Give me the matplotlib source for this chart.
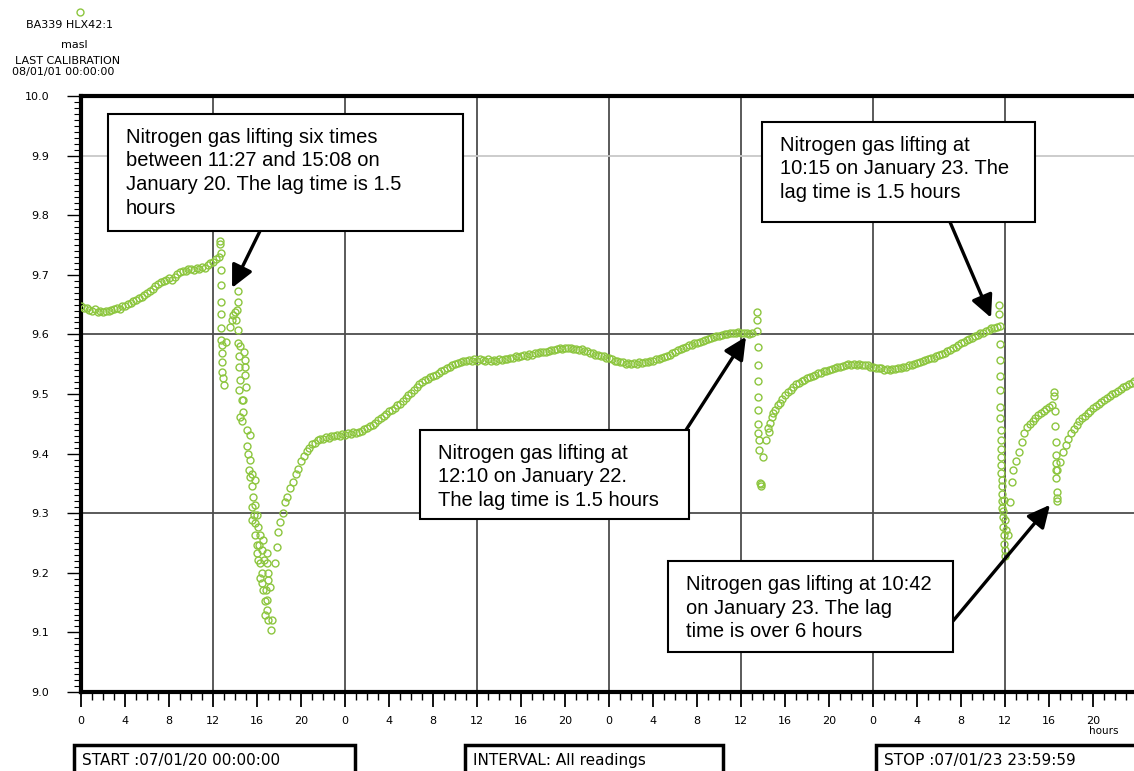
import numpy as np
import matplotlib
matplotlib.use('Agg')
import matplotlib.pyplot as plt
from matplotlib.patches import Rectangle
from matplotlib.lines import Line2D
from matplotlib.ticker import MultipleLocator, FixedLocator, FuncFormatter

W, H = 1134, 771
GREEN = '#8dc63f'

# water level (masl) in the calm stretches, one reading every STEP hours
STEP = 0.25

calm1_start = 0.0
calm1_level = [
    9.647, 9.644, 9.645, 9.641, 9.640, 9.642, 9.638, 9.639, 9.637, 9.640,
    9.639, 9.641, 9.642, 9.644, 9.643, 9.647, 9.648, 9.651, 9.652, 9.656,
    9.657, 9.661, 9.662, 9.666, 9.669, 9.672, 9.676, 9.681, 9.684, 9.688,
    9.690, 9.692, 9.694, 9.692, 9.697, 9.701, 9.704, 9.707, 9.706, 9.709,
    9.710, 9.708, 9.711, 9.710, 9.713, 9.712, 9.716, 9.719, 9.722, 9.726,
    9.730,
]

calm2_start = 18.75
calm2_level = [
    9.328, 9.343, 9.352, 9.366, 9.374, 9.387, 9.396, 9.404, 9.410, 9.416,
    9.418, 9.422, 9.424, 9.425, 9.428, 9.427, 9.430, 9.429, 9.432, 9.430,
    9.433, 9.431, 9.434, 9.433, 9.436, 9.434, 9.437, 9.438, 9.441, 9.443,
    9.446, 9.448, 9.452, 9.456, 9.460, 9.463, 9.467, 9.471, 9.473, 9.477,
    9.481, 9.484, 9.489, 9.493, 9.498, 9.502, 9.507, 9.512, 9.516, 9.520,
    9.524, 9.526, 9.528, 9.531, 9.532, 9.535, 9.538, 9.541, 9.543, 9.546,
    9.548, 9.551, 9.552, 9.553, 9.556, 9.555, 9.557, 9.556, 9.558, 9.556,
    9.558, 9.557, 9.555, 9.558, 9.556, 9.557, 9.555, 9.558, 9.557, 9.559,
    9.558, 9.560, 9.561, 9.563, 9.562, 9.564, 9.565, 9.564, 9.567, 9.566,
    9.569, 9.568, 9.570, 9.571, 9.570, 9.572, 9.574, 9.573, 9.576, 9.577,
    9.576, 9.578, 9.577, 9.577, 9.575, 9.576, 9.574, 9.575, 9.572, 9.572,
    9.569, 9.568, 9.566, 9.565, 9.563, 9.563, 9.561, 9.560, 9.558, 9.556,
    9.555, 9.553, 9.554, 9.551, 9.552, 9.550, 9.552, 9.551, 9.553, 9.552,
    9.554, 9.553, 9.556, 9.556, 9.558, 9.559, 9.561, 9.562, 9.564, 9.566,
    9.568, 9.570, 9.573, 9.575, 9.577, 9.579, 9.582, 9.583, 9.585, 9.586,
    9.588, 9.589, 9.591, 9.592, 9.594, 9.595, 9.597, 9.598, 9.599, 9.600,
    9.601, 9.602, 9.603, 9.602, 9.604, 9.603, 9.602, 9.603, 9.601, 9.602,
]

calm3_start = 63.5
calm3_level = [
    9.485, 9.492, 9.498, 9.503, 9.507, 9.511, 9.516, 9.519, 9.522, 9.524,
    9.527, 9.528, 9.531, 9.532, 9.535, 9.536, 9.538, 9.539, 9.541, 9.542,
    9.544, 9.545, 9.546, 9.547, 9.548, 9.550, 9.549, 9.550, 9.548, 9.550,
    9.549, 9.548, 9.548, 9.546, 9.546, 9.544, 9.543, 9.543, 9.541, 9.542,
    9.541, 9.542, 9.542, 9.544, 9.543, 9.546, 9.546, 9.548, 9.549, 9.551,
    9.552, 9.554, 9.555, 9.557, 9.558, 9.560, 9.561, 9.563, 9.565, 9.567,
    9.569, 9.572, 9.574, 9.577, 9.579, 9.583, 9.585, 9.588, 9.590, 9.593,
    9.594, 9.597, 9.599, 9.602, 9.603, 9.606, 9.607, 9.610, 9.611, 9.613,
    9.614,
]

calm4_start = 84.75
calm4_level = [
    9.372, 9.388, 9.403, 9.420, 9.434, 9.444, 9.450, 9.455, 9.460, 9.464,
    9.468, 9.471, 9.475, 9.478, 9.482,
]

calm5_start = 89.0
calm5_level = [
    9.386, 9.402, 9.414, 9.424, 9.434, 9.442, 9.448, 9.454, 9.459, 9.463,
    9.468, 9.472, 9.476, 9.480, 9.484, 9.487, 9.490, 9.494, 9.497, 9.500,
    9.502, 9.505, 9.508, 9.511, 9.514, 9.516, 9.519, 9.522,
]

# readings during the nitrogen gas lifting events (hour, level)
lift_hours = [
    12.64, 12.64, 12.73, 12.73, 12.73, 12.73, 12.73, 12.73, 12.73, 12.82,
    12.82, 12.82, 12.82, 12.91, 13.00, 13.15, 13.55, 13.70, 13.85, 14.00,
    14.09, 14.21, 14.30, 14.30, 14.30, 14.30, 14.39, 14.39, 14.45, 14.39,
    14.45, 14.45, 14.61, 14.61, 14.70, 14.75, 14.82, 14.91, 14.91, 14.91,
    15.00, 15.06, 15.09, 15.21, 15.27, 15.36, 15.36, 15.36, 15.52, 15.52,
    15.52, 15.55, 15.66, 15.73, 15.82, 15.82, 15.82, 15.82, 15.97, 15.97,
    16.00, 16.09, 16.12, 16.18, 16.27, 16.27, 16.27, 16.43, 16.43, 16.45,
    16.52, 16.55, 16.64, 16.73, 16.73, 16.82, 16.88, 16.91, 16.94, 16.94,
    17.00, 17.03, 17.03, 17.18, 17.25, 17.34, 17.64, 17.79, 17.94, 18.09,
    18.39, 18.55,
    61.43, 61.48, 61.48, 61.57, 61.57, 61.57, 61.57, 61.57, 61.57, 61.57,
    61.66, 61.66, 61.98, 61.73, 61.79, 61.82, 62.27, 62.48, 62.55, 62.64,
    62.79, 62.91, 63.09, 63.39,
    83.48, 83.48, 83.55, 83.55, 83.55, 83.55, 83.57, 83.57, 83.61, 83.61,
    83.64, 83.64, 83.67, 83.67, 83.70, 83.70, 83.73, 83.73, 83.76, 83.79,
    83.82, 83.85, 83.88, 83.91, 83.91, 84.00, 84.00, 84.04, 84.09, 84.30,
    84.45, 84.61,
    88.48, 88.48, 88.55, 88.57, 88.61, 88.61, 88.64, 88.66, 88.66, 88.70,
    88.73, 88.73, 88.75,
]
lift_level = [
    9.756, 9.751, 9.736, 9.708, 9.683, 9.655, 9.634, 9.611, 9.591, 9.582,
    9.569, 9.554, 9.537, 9.527, 9.515, 9.588, 9.613, 9.624, 9.633, 9.638,
    9.624, 9.641, 9.673, 9.655, 9.607, 9.585, 9.563, 9.546, 9.524, 9.507,
    9.581, 9.462, 9.490, 9.454, 9.470, 9.490, 9.571, 9.557, 9.546, 9.532,
    9.512, 9.412, 9.440, 9.400, 9.373, 9.431, 9.389, 9.361, 9.345, 9.311,
    9.289, 9.365, 9.328, 9.297, 9.356, 9.314, 9.283, 9.263, 9.247, 9.233,
    9.297, 9.222, 9.277, 9.247, 9.263, 9.216, 9.191, 9.238, 9.199, 9.183,
    9.171, 9.255, 9.222, 9.152, 9.129, 9.171, 9.233, 9.154, 9.216, 9.138,
    9.121, 9.199, 9.188, 9.177, 9.104, 9.121, 9.216, 9.244, 9.269, 9.286,
    9.300, 9.319,
    9.638, 9.625, 9.605, 9.579, 9.549, 9.521, 9.495, 9.473, 9.450, 9.434,
    9.422, 9.406, 9.395, 9.350, 9.346, 9.349, 9.423, 9.443, 9.437, 9.451,
    9.462, 9.468, 9.473, 9.482,
    9.649, 9.635, 9.584, 9.557, 9.531, 9.506, 9.479, 9.459, 9.440, 9.422,
    9.407, 9.395, 9.381, 9.368, 9.356, 9.345, 9.333, 9.321, 9.308, 9.303,
    9.294, 9.277, 9.263, 9.249, 9.322, 9.289, 9.238, 9.228, 9.272, 9.263,
    9.319, 9.353,
    9.504, 9.496, 9.472, 9.446, 9.420, 9.372, 9.398, 9.384, 9.359, 9.336,
    9.372, 9.325, 9.321,
]

notes = [
    'Nitrogen gas lifting six times\nbetween 11:27 and 15:08 on\nJanuary 20. The lag time is 1.5\nhours',
    'Nitrogen gas lifting at\n10:15 on January 23. The\nlag time is 1.5 hours',
    'Nitrogen gas lifting at\n12:10 on January 22.\nThe lag time is 1.5 hours',
    'Nitrogen gas lifting at 10:42\non January 23. The lag\ntime is over 6 hours',
]
# where each arrow points (hour, level)
note_hours = [13.73, 82.73, 60.45, 88.09]
note_level = [9.678, 9.628, 9.596, 9.314]
# box left, top, right, bottom and arrow tail, in pixels
note_boxes = [(108, 114, 463, 231), (762, 122, 1035, 222), (420, 430, 689, 519), (668, 561, 953, 652)]
note_tails = [(260, 231), (950, 222), (686, 430), (953, 621)]


def fx(px):
    return px / W


def fy(py):
    return 1 - py / H


def hoursOf(start, levels):
    return start + STEP * np.arange(len(levels))


fig = plt.figure(figsize=(W / 100, H / 100), dpi=100)
ax = fig.add_axes([fx(81), fy(692), (1137 - 81) / W, (692 - 96) / H])

# grid
for h in range(12, 96, 12):
    ax.axvline(h, color='#4d4d4d', lw=1.3, zorder=1)
ax.axhline(9.9, color='#c8c8c8', lw=1.3, zorder=1)
ax.axhline(9.6, color='#4d4d4d', lw=1.3, zorder=1)
ax.axhline(9.3, color='#4d4d4d', lw=1.3, zorder=1)

marker = dict(ls='none', marker='o', mfc='none', mec=GREEN, ms=5, mew=1.0, zorder=3)
for start, levels in [(calm1_start, calm1_level), (calm2_start, calm2_level),
                      (calm3_start, calm3_level), (calm4_start, calm4_level),
                      (calm5_start, calm5_level)]:
    ax.plot(hoursOf(start, levels), levels, **marker)
ax.plot(lift_hours, lift_level, **marker)

ax.set_xlim(0, 96)
ax.set_ylim(9.0, 10.0)

for side in ['left', 'bottom', 'top']:
    ax.spines[side].set_linewidth(3)
    ax.spines[side].set_color('black')
ax.spines['right'].set_visible(False)

ax.xaxis.set_major_locator(FixedLocator(range(0, 96, 4)))
ax.xaxis.set_minor_locator(FixedLocator(range(0, 96)))
ax.xaxis.set_major_formatter(FuncFormatter(lambda v, p: str(int(round(v)) % 24)))
ax.yaxis.set_major_locator(MultipleLocator(0.1))
ax.yaxis.set_minor_locator(MultipleLocator(0.01))
ax.yaxis.set_major_formatter(FuncFormatter(lambda v, p: '%.1f' % v))

ax.tick_params(axis='x', which='major', length=11, width=1.3, pad=6, labelsize=8, direction='out')
ax.tick_params(axis='x', which='minor', length=6, width=1.0, direction='out')
ax.tick_params(axis='y', which='major', length=10, width=1.0, pad=13, labelsize=8, direction='out')
ax.tick_params(axis='y', which='minor', length=5, width=0.8, direction='out')
ax.tick_params(top=False, right=False, which='both')

# header
fig.add_artist(Line2D([fx(80)], [fy(12)], marker='o', mfc='none', mec=GREEN, ms=5, mew=1.0,
                      transform=fig.transFigure))
fig.text(fx(70), fy(25), 'BA339 HLX42:1', ha='center', va='center', fontsize=8)
fig.text(fx(74), fy(45), 'masl', ha='center', va='center', fontsize=8)
fig.text(fx(68), fy(61), 'LAST CALIBRATION', ha='center', va='center', fontsize=8)
fig.text(fx(63), fy(72), '08/01/01 00:00:00', ha='center', va='center', fontsize=8)
fig.text(fx(1104), fy(731), 'hours', ha='center', va='center', fontsize=7.5)

# start / interval / stop boxes
for left, right, label in [(74, 355, 'START :07/01/20 00:00:00'),
                           (465, 723, 'INTERVAL: All readings'),
                           (876, 1160, 'STOP :07/01/23 23:59:59')]:
    fig.add_artist(Rectangle((fx(left), fy(800)), (right - left) / W, (800 - 745) / H,
                             transform=fig.transFigure, fill=False, lw=2.5, ec='black'))
    fig.text(fx(left + 8), fy(760), label, ha='left', va='center', fontsize=11)

# notes with arrows
for text, h, lv, box, tail in zip(notes, note_hours, note_level, note_boxes, note_tails):
    l, t, r, b = box
    fig.add_artist(Rectangle((fx(l), fy(b)), (r - l) / W, (b - t) / H, transform=fig.transFigure,
                             fc='white', ec='black', lw=1.5, zorder=4))
    fig.text(fx(l + 18), fy(t + 14), text, ha='left', va='top', fontsize=14.5,
             family='Liberation Sans', linespacing=1.3, zorder=5)
    ax.annotate('', xy=(h, lv), xycoords='data', xytext=(fx(tail[0]), fy(tail[1])),
                textcoords='figure fraction', annotation_clip=False,
                arrowprops=dict(arrowstyle='-|>,head_length=0.45,head_width=0.22', mutation_scale=30,
                                lw=2.4, color='black', shrinkA=0, shrinkB=0), zorder=6)

fig.savefig('out.png', dpi=100)
